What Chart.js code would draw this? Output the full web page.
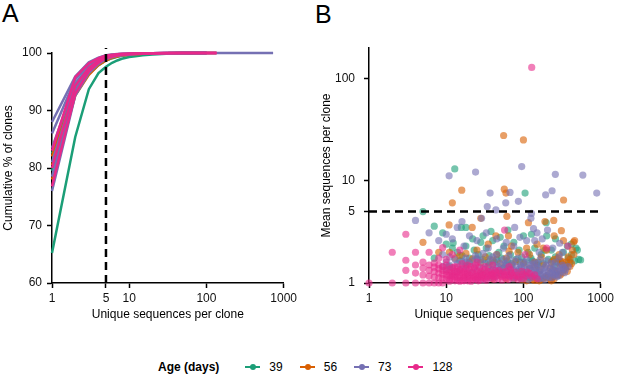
<!DOCTYPE html>
<html>
<head>
<meta charset="utf-8">
<script src="https://cdn.jsdelivr.net/npm/chart.js@4/dist/chart.umd.min.js"></script>
<style>
  body { margin: 0; background: #fff; width: 617px; height: 374px; position: relative; overflow: hidden;
         font-family: 'Liberation Sans', Arial, sans-serif; }
  canvas { position: absolute; top: 0; }
  #cA { left: 0; }
  #cB { left: 300px; }
  .letter { position: absolute; font-size: 25px; color: #000; line-height: 1; }
  #legend { position: absolute; left: 158px; top: 359px; height: 16px; display: flex; align-items: center;
            font-size: 12px; color: #000; }
  #legend b { margin-right: 26px; }
  .item { display: flex; align-items: center; margin-right: 17px; }
  .key { position: relative; width: 15px; height: 2px; margin-right: 9px; }
  .key i { position: absolute; left: 5px; top: -2px; width: 6px; height: 6px; border-radius: 50%; background: inherit; }
</style>
</head>
<body>
<div class="letter" style="left:2px;top:1px">A</div>
<div class="letter" style="left:315px;top:2px">B</div>
<canvas id="cA" width="300" height="322"></canvas>
<canvas id="cB" width="317" height="322"></canvas>
<div id="legend"></div>

<script>
// ages and colours
const ages = ['39', '56', '73', '128'];
const ageColors = ['#1B9E77', '#D95F02', '#7570B3', '#E7298A'];

// panel A: cumulative % of clones by unique sequences per clone
const cumX = [1, 2, 3, 4, 5, 6, 7, 8, 10, 12, 15, 20, 30, 50, 100, 135, 300, 730];
const cum39 = [
  [65.2, 85.4, 93.7, 96.5, 97.6, 98.3, 98.7, 99.0, 99.3, 99.45, 99.6, 99.72, 99.85, 99.93, 99.98, 100],
  [79.5, 93.0, 96.4, 97.9, 98.7, 99.1, 99.35, 99.5, 99.65, 99.75, 99.83, 99.9, 99.95, 99.98, 100],
  [82.5, 94.2, 97.1, 98.4, 99.0, 99.35, 99.55, 99.65, 99.75, 99.82, 99.88, 99.93, 99.97, 99.99, 100]
];
const cum56 = [
  [78.0, 92.6, 96.2, 97.9, 98.7, 99.15, 99.4, 99.55, 99.7, 99.78, 99.85, 99.9, 99.95, 99.98, 100, 100],
  [80.5, 93.6, 96.9, 98.3, 99.0, 99.3, 99.5, 99.62, 99.75, 99.82, 99.88, 99.93, 99.96, 99.99, 100],
  [82.0, 94.3, 97.3, 98.6, 99.2, 99.45, 99.6, 99.7, 99.8, 99.86, 99.9, 99.94, 99.97, 99.99, 100]
];
const cum73 = [
  [76.0, 92.6, 96.5, 98.1, 98.95, 99.3, 99.5, 99.62, 99.74, 99.82, 99.88, 99.92, 99.96, 99.98, 100],
  [78.5, 93.3, 96.9, 98.3, 99.05, 99.38, 99.56, 99.67, 99.77, 99.84, 99.9, 99.94, 99.97, 99.99, 100],
  [81.0, 94.0, 97.3, 98.6, 99.2, 99.5, 99.64, 99.73, 99.82, 99.87, 99.92, 99.95, 99.97, 99.99, 100],
  [83.5, 94.7, 97.6, 98.8, 99.35, 99.58, 99.7, 99.78, 99.85, 99.9, 99.93, 99.96, 99.98, 99.99, 100],
  [86.0, 95.4, 98.0, 99.0, 99.5, 99.68, 99.77, 99.83, 99.89, 99.92, 99.95, 99.97, 99.98, 99.99, 100],
  [88.0, 95.9, 98.4, 99.2, 99.6, 99.75, 99.82, 99.87, 99.91, 99.94, 99.96, 99.97, 99.98, 99.99, 99.99, 100, 100, 100]
];
const cum128 = [
  [76.8, 92.9, 96.8, 98.3, 99.1, 99.4, 99.58, 99.68, 99.78, 99.85, 99.9, 99.94, 99.97, 99.99, 100, 100],
  [80.0, 94.3, 97.4, 98.7, 99.3, 99.55, 99.68, 99.76, 99.84, 99.89, 99.93, 99.96, 99.98, 99.99, 100, 100],
  [83.0, 95.8, 98.2, 99.1, 99.55, 99.7, 99.8, 99.85, 99.9, 99.93, 99.95, 99.97, 99.98, 99.99, 100, 100]
];
const cumTicksX = [1, 5, 10, 100, 1000];
const cumTicksY = [60, 70, 80, 90, 100];

// panel B: [unique sequences per V/J, mean sequences per clone]
const pts39 = [
  [12.9, 13.1], [105, 7.6], [5, 5], [197, 3.9], [7, 3.6], [15.7, 3.5], [18, 3.5], [38, 3.2], [63, 3.3], [127, 3.0],
  [260, 2.7], [417, 2.4], [370, 2.3], [550, 1.68], [9, 3.1], [12.3, 2.47], [190, 2.1], [500, 2.1],
  [10, 2.4], [12, 2.2], [14, 2.0], [16, 1.85], [18, 2.3], [20, 1.75], [23, 2.1], [26, 1.9], [28, 2.5], [30, 1.7],
  [33, 2.2], [36, 1.85], [40, 2.6], [42, 1.6], [48, 2.0], [52, 1.75], [56, 2.3], [62, 1.65], [68, 1.9], [75, 2.5],
  [80, 1.7], [88, 2.1], [95, 1.8], [105, 1.6], [115, 2.0], [125, 1.75], [140, 2.2], [155, 1.6], [170, 1.9], [210, 1.7],
  [230, 2.1], [260, 1.8], [300, 1.6], [330, 2.0], [380, 1.75], [420, 1.9], [460, 1.65], [480, 2.2], [30, 2.9], [50, 2.8],
  [22, 2.7], [100, 2.9], [200, 2.9], [350, 1.5], [250, 1.45], [150, 1.5], [70, 1.55], [35, 1.6], [18, 1.5], [7, 1.75], [11, 1.45],
  [45, 1.7], [90, 1.6], [130, 1.65], [180, 1.55], [240, 1.65], [280, 1.6], [400, 1.6], [520, 1.7], [60, 1.5], [25, 1.7], [15, 1.65]
];
const pts56 = [
  [55.4, 27.8], [100, 25.2], [12, 6.1], [15.9, 8.1], [56.5, 8.3], [59.4, 7.6], [331, 6.5], [61, 4.5], [190, 4.0], [116, 3.9],
  [247, 4.1], [10.9, 3.7], [21.7, 3.5], [44, 2.9], [64, 2.9], [310, 3.25], [446, 2.52], [5, 2.5], [8, 2.0], [28, 4.3],
  [11, 2.0], [13, 1.75], [15, 1.85], [18, 1.95], [20, 1.6], [22, 1.72], [25, 2.1], [28, 1.58], [32, 1.8], [36, 1.5],
  [40, 1.68], [45, 1.9], [50, 1.55], [55, 1.4], [60, 1.75], [65, 2.05], [70, 1.5], [80, 1.62], [90, 1.3], [100, 1.55],
  [110, 2.2], [120, 1.4], [130, 1.15], [140, 1.6], [150, 1.1], [160, 1.32], [170, 1.08], [180, 1.5], [200, 1.12], [220, 1.4],
  [240, 1.15], [250, 1.7], [270, 1.3], [290, 1.9], [300, 1.5], [330, 1.35], [360, 1.6], [400, 1.45], [430, 2.1], [460, 2.6],
  [120, 1.12], [95, 1.08], [140, 1.06], [180, 1.1], [210, 1.2], [260, 1.25], [300, 1.2], [350, 1.4], [380, 1.8], [200, 2.1],
  [150, 2.4], [70, 2.3], [35, 2.4], [250, 2.9], [330, 2.6], [180, 2.2], [230, 1.05], [110, 1.05], [75, 1.1], [50, 1.2],
  [30, 1.25], [400, 1.7], [320, 1.62], [280, 1.75], [120, 1.9], [85, 2.0],
  [160, 1.05], [190, 1.15], [250, 1.1], [280, 1.2], [320, 1.25], [220, 1.1], [130, 1.08], [105, 1.2], [85, 1.15], [60, 1.1],
  [40, 1.1], [340, 1.5], [370, 1.3], [420, 1.55], [450, 1.9], [300, 1.65], [230, 1.6], [170, 1.8], [140, 1.45]
];
const pts73 = [
  [4, 4.1], [6, 3.1], [10.9, 11.2], [24, 12.2], [95, 13.8], [259, 11.6], [588, 11.4], [890, 7.6], [37, 7.6], [67, 7.7],
  [194, 7.3], [235, 8.0], [86, 6.3], [59, 6.1], [34, 5.6], [44, 5.2], [127, 4.8], [28.7, 4.3], [135, 3.4], [205, 3.3],
  [13.9, 3.5], [20, 2.9], [33, 3.1], [77, 3.5], [150, 3.1], [295, 2.45], [8, 2.6], [12, 2.7], [17, 2.3], [25, 2.6],
  [45, 2.7], [60, 2.5], [90, 2.8], [110, 2.6], [140, 2.6], [175, 2.7], [35, 2.2], [55, 2.2], [75, 2.3], [160, 2.0],
  [240, 2.2], [320, 2.0], [125, 4.3], [16, 4.0], [10, 3.0],
  [9, 1.9], [10, 1.6], [11, 1.5], [11, 1.8], [12, 1.4], [13, 1.7], [14, 1.55], [15, 1.35], [16, 1.62], [17, 1.45],
  [18, 1.75], [19, 1.3], [20, 1.55], [21, 1.25], [22, 1.65], [23, 1.42], [24, 1.85], [25, 1.3], [26, 1.5], [28, 1.2],
  [28, 1.68], [30, 1.38], [32, 1.55], [34, 1.25], [35, 1.45], [37, 1.7], [38, 1.32], [40, 1.52], [42, 1.22], [44, 1.4],
  [46, 1.62], [48, 1.27], [50, 1.36], [52, 1.5], [55, 1.2], [57, 1.42], [60, 1.3], [62, 1.58], [65, 1.18], [68, 1.38],
  [70, 1.26], [72, 1.5], [75, 1.33], [78, 1.15], [80, 1.45], [85, 1.25], [88, 1.36], [90, 1.12], [95, 1.42], [100, 1.28],
  [105, 1.18], [110, 1.35], [115, 1.22], [120, 1.48], [125, 1.12], [130, 1.3], [140, 1.2], [145, 1.4], [150, 1.15], [160, 1.28],
  [170, 1.36], [175, 1.12], [180, 1.22], [190, 1.42], [200, 1.18], [210, 1.3], [220, 1.24], [240, 1.36], [250, 1.2], [270, 1.46],
  [280, 1.3], [300, 1.38], [320, 1.5], [340, 1.26], [290, 1.8], [260, 1.6], [230, 1.55], [200, 1.65], [165, 1.7], [135, 1.6],
  [110, 1.7], [85, 1.75], [65, 1.85], [45, 1.9], [30, 1.95], [115, 1.08], [160, 1.1], [230, 1.12], [95, 1.1], [190, 1.08],
  [270, 1.15], [380, 1.45],
  [25, 1.1], [30, 1.08], [36, 1.12], [40, 1.35], [43, 1.15], [47, 1.45], [53, 1.28], [58, 1.55], [63, 1.4], [67, 1.22],
  [73, 1.1], [82, 1.3], [92, 1.5], [98, 1.2], [103, 1.45], [108, 1.25], [118, 1.15], [123, 1.38], [128, 1.52], [138, 1.32],
  [148, 1.25], [155, 1.45], [165, 1.2], [185, 1.3], [195, 1.5], [215, 1.14], [225, 1.4], [235, 1.28], [255, 1.32], [265, 1.22],
  [285, 1.18], [310, 1.3], [330, 1.42], [350, 1.35], [25, 1.75], [40, 1.8], [55, 1.7], [75, 1.65], [100, 1.6], [150, 1.55],
  [18, 1.6], [14, 1.25], [12, 1.2], [10, 1.35], [9, 1.45]
];
const pts128 = [
  [1, 1], [2, 1], [2, 2], [3, 1], [3, 1.33], [3, 1.67], [3, 3], [4, 1], [4, 1.25], [4, 1.5], [4, 2], [5, 1], [5, 1.2],
  [5, 1.4], [5, 1.6], [6, 1], [6, 1.17], [6, 1.33], [6, 1.5], [6, 2], [7, 1], [7, 1.14], [7, 1.29], [7, 1.43], [7, 1.57],
  [8, 1], [8, 1.12], [8, 1.25], [8, 1.38], [8, 1.5], [8, 1.75], [9, 1], [9, 1.11], [9, 1.22], [9, 1.33], [9, 1.44], [9, 2.22],
  [10, 1.1], [10, 1.2], [10, 1.3], [10, 1.5], [10, 1.7], [11, 1.09], [11, 1.18], [11, 1.27], [11, 1.36], [12, 1.08], [12, 1.17],
  [12, 1.25], [12, 1.42], [13, 1.15], [13, 1.23], [13, 1.31], [14, 1.07], [14, 1.14], [14, 1.29], [14, 1.43], [15, 1.13],
  [15, 1.2], [15, 1.33], [16, 1.06], [16, 1.25], [16, 1.38], [17, 1.12], [17, 1.18], [17, 1.29], [18, 1.11], [18, 1.22],
  [18, 1.39], [19, 1.05], [19, 1.16], [19, 1.26], [20, 1.1], [20, 1.2], [20, 1.35], [22, 1.09], [22, 1.18], [22, 1.27],
  [23, 1.13], [23, 1.39], [24, 1.08], [24, 1.21], [25, 1.16], [25, 1.32], [26, 1.12], [27, 1.22], [28, 1.07], [28, 1.29],
  [30, 1.13], [30, 1.2], [31, 1.35], [32, 1.1], [33, 1.24], [34, 1.15], [36, 1.19], [37, 1.29], [38, 1.11], [40, 1.23],
  [41, 1.15], [43, 1.32], [45, 1.18], [47, 1.1], [50, 1.24], [52, 1.16], [55, 1.28], [58, 1.12], [62, 1.2], [66, 1.15],
  [70, 1.25], [76, 1.12], [82, 1.19], [90, 1.14], [98, 1.22], [108, 1.17], [120, 1.24], [130, 1.15], [128, 129], [57, 3.3],
  [15, 2.1], [12, 1.9], [377, 2.3], [200, 2.2], [105, 1.9], [25, 1.6], [40, 1.5], [65, 1.45],
  [11, 1.04], [13, 1.05], [15, 1.04], [17, 1.05], [21, 1.04], [26, 1.05], [29, 1.17], [33, 1.06], [35, 1.3], [39, 1.2],
  [42, 1.08], [44, 1.27], [48, 1.33], [53, 1.07], [57, 1.2], [60, 1.3], [64, 1.08], [68, 1.35], [72, 1.18], [78, 1.28],
  [85, 1.09], [95, 1.3], [100, 1.1], [112, 1.28], [140, 1.2], [150, 1.1], [21, 1.45], [27, 1.42], [19, 1.5], [16, 1.55],
  [13, 1.45], [24, 1.5], [32, 1.45]
];
const ptsTicksX = [1, 10, 100, 1000];
const ptsTicksY = [1, 5, 10, 100];

Chart.defaults.font.family = "'Liberation Sans', Arial, sans-serif";
Chart.defaults.font.size = 12;
Chart.defaults.color = '#000';

function rgba(hex, a) {
  const n = parseInt(hex.slice(1), 16);
  return 'rgba(' + (n >> 16) + ',' + ((n >> 8) & 255) + ',' + (n & 255) + ',' + a + ')';
}

function axis(type, min, max, tickVals, title, fit) {
  return {
    type: type, min: min, max: max,
    afterBuildTicks: s => { s.ticks = tickVals.map(v => ({ value: v })); },
    afterFit: fit,
    ticks: { callback: v => String(v), autoSkip: false, maxRotation: 0, color: '#111', padding: 3 },
    grid: { drawOnChartArea: false, tickLength: 5, tickWidth: 1.5, tickColor: '#000' },
    border: { display: true, color: '#000', width: 1.5 },
    title: { display: true, text: title, color: '#000', padding: 0, font: { size: 12 } }
  };
}

// dashed reference line
function dashLine(id, draw) {
  return {
    id: id,
    afterDatasetsDraw(chart) {
      const ctx = chart.ctx;
      ctx.save();
      ctx.strokeStyle = '#000';
      ctx.lineWidth = 2.5;
      ctx.setLineDash([8, 5]);
      ctx.beginPath();
      draw(chart, ctx);
      ctx.stroke();
      ctx.restore();
    }
  };
}

// ---- panel A ----
const lineSets = [];
[[cum128, 3], [cum73, 2], [cum56, 1], [cum39, 0]].forEach(([group, ai]) => {
  group.forEach(ys => {
    lineSets.push({
      label: ages[ai],
      data: ys.map((y, i) => ({ x: cumX[i], y: y })),
      borderColor: ageColors[ai],
      borderWidth: 2.5,
      pointRadius: 0,
      tension: 0,
      clip: false
    });
  });
});

const yA = axis('linear', 60, 100, cumTicksY, 'Cumulative % of clones', s => { s.width = 52; });
yA.ticks.padding = 5;
yA.title.padding = { top: 1, bottom: 0 };
new Chart(document.getElementById('cA'), {
  type: 'line',
  data: { datasets: lineSets },
  options: {
    responsive: false, animation: false, devicePixelRatio: 1,
    layout: { padding: { top: 53, right: 14, left: 0, bottom: 0 } },
    plugins: { legend: { display: false }, tooltip: { enabled: false } },
    scales: {
      x: axis('logarithmic', 1, 1000, cumTicksX, 'Unique sequences per clone', s => { s.height = 39; }),
      y: yA
    }
  },
  plugins: [dashLine('vline', (chart, ctx) => {
    const x = chart.scales.x.getPixelForValue(5);
    ctx.moveTo(x, chart.chartArea.bottom);
    ctx.lineTo(x, chart.chartArea.top - 5);
  })]
});

// ---- panel B ----
const scatterSets = [[pts128, 3], [pts73, 2], [pts56, 1], [pts39, 0]].map(([pts, ai]) => ({
  label: ages[ai],
  data: pts.map(p => ({ x: p[0], y: p[1] })),
  backgroundColor: rgba(ageColors[ai], 0.6),
  borderWidth: 0,
  pointRadius: 3.6,
  clip: false
}));

const yB = axis('logarithmic', 1, 200, ptsTicksY, 'Mean sequences per clone', s => { s.width = 50; });
yB.ticks.padding = 9;
new Chart(document.getElementById('cB'), {
  type: 'scatter',
  data: { datasets: scatterSets },
  options: {
    responsive: false, animation: false, devicePixelRatio: 1,
    layout: { padding: { top: 48, right: 14, left: 19, bottom: 0 } },
    plugins: { legend: { display: false }, tooltip: { enabled: false } },
    scales: {
      x: axis('logarithmic', 1, 1000, ptsTicksX, 'Unique sequences per V/J', s => { s.height = 39; }),
      y: yB
    }
  },
  plugins: [dashLine('hline', (chart, ctx) => {
    const y = chart.scales.y.getPixelForValue(5);
    ctx.moveTo(chart.chartArea.left, y);
    ctx.lineTo(chart.chartArea.right, y);
  })]
});

// ---- legend ----
const legend = document.getElementById('legend');
legend.innerHTML = '<b>Age (days)</b>' + ages.map((a, i) =>
  '<span class="item"><span class="key" style="background:' + ageColors[i] + '"><i></i></span>' + a + '</span>'
).join('');
</script>
</body>
</html>
